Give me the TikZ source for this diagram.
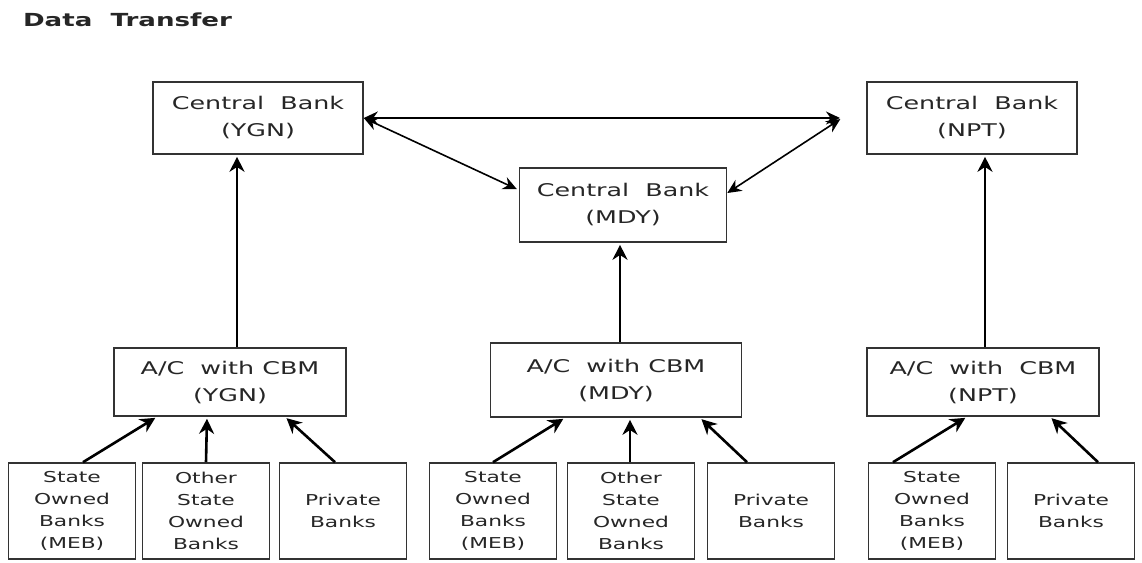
\documentclass[tikz,border=0pt]{standalone}
\usepackage{fontspec}
\setmainfont{DejaVu Sans}[FakeStretch=1.45]
\usepackage{pgf, tikz}
\usetikzlibrary{arrows.meta}

\begin{document}
\begin{tikzpicture}[
            x = 1pt, y = -1pt, % picture laid out in pixels
            > = {Stealth[length=15pt, width=15pt]}, % arrow head style
            shorten > = 2pt, % don't touch arrow head to node
            line width = 1.4pt % line style
        ]

        \tikzstyle{every node}=[text = black!85]
        \tikzstyle{bigbox}=[
            draw = black!80,
            line width = 1.6pt,
            align = center,
            font = \fontsize{17.5}{27}\selectfont
        ]
        \tikzstyle{bankbox}=[
            draw = black!80,
            line width = 1.6pt,
            align = center,
            minimum width = 127pt,
            minimum height = 96pt,
            font = \fontsize{15}{22}\selectfont
        ]
        \tikzstyle{flow}=[->, line width = 2.6pt]
        \tikzstyle{link}=[{Stealth[length=14pt, width=13pt]}-{Stealth[length=14pt, width=13pt]}, line width = 1.6pt]

        \useasboundingbox (0,0) rectangle (1142,562);

        \node (title) [anchor = west, font = \fontsize{18}{20}\selectfont\bfseries] at (19,20) {Data\ \ Transfer};

        % central banks
        \node (cbygn) [bigbox, minimum width = 210pt, minimum height = 72pt] at (258,118) {Central\ \ Bank\\(YGN)};
        \node (cbmdy) [bigbox, minimum width = 207pt, minimum height = 74pt] at (623,205) {Central\ \ Bank\\(MDY)};
        \node (cbnpt) [bigbox, minimum width = 210pt, minimum height = 72pt] at (972,118) {Central\ \ Bank\\(NPT)};
        \coordinate (nptlink) at (842,118);

        % accounts with CBM
        \node (acygn) [bigbox, minimum width = 232pt, minimum height = 68pt] at (230,382) {A/C\ \ with CBM\\(YGN)};
        \node (acmdy) [bigbox, minimum width = 251pt, minimum height = 74pt] at (616,380) {A/C\ \ with CBM\\(MDY)};
        \node (acnpt) [bigbox, minimum width = 232pt, minimum height = 68pt] at (983,382) {A/C\ \ with\ \ CBM\\(NPT)};

        % banks
        \node (ygnmeb) [bankbox] at (72,511) {State\\Owned\\Banks\\(MEB)};
        \node (ygnother) [bankbox] at (206,511) {Other\\State\\Owned\\Banks};
        \node (ygnpriv) [bankbox] at (343,511) {Private\\Banks};
        \node (mdymeb) [bankbox] at (493,511) {State\\Owned\\Banks\\(MEB)};
        \node (mdyother) [bankbox] at (631,511) {Other\\State\\Owned\\Banks};
        \node (mdypriv) [bankbox] at (771,511) {Private\\Banks};
        \node (nptmeb) [bankbox] at (932,511) {State\\Owned\\Banks\\(MEB)};
        \node (nptpriv) [bankbox] at (1071,511) {Private\\Banks};

        \path[link] (cbygn.east) edge (nptlink);
        \path[link] (cbygn.east) edge ([yshift=15pt]cbmdy.west);
        \path[link] ([yshift=12pt]cbmdy.east) edge (nptlink);

        \path[flow] ([xshift=7pt]acygn.north) edge ([xshift=7pt]acygn.north |- cbygn.south);
        \path[flow] ([xshift=4pt]acmdy.north) edge ([xshift=4pt]acmdy.north |- cbmdy.south);
        \path[flow] ([xshift=2pt]acnpt.north) edge ([xshift=2pt]acnpt.north |- cbnpt.south);

        \path[flow] ([xshift=11pt]ygnmeb.north) edge ([xshift=-73pt]acygn.south);
        \path[flow] (ygnother.north) edge ([xshift=-23pt]acygn.south);
        \path[flow] ([xshift=-8pt]ygnpriv.north) edge ([xshift=55pt]acygn.south);
        \path[flow] (mdymeb.north) edge ([xshift=-51pt]acmdy.south);
        \path[flow] ([xshift=-1pt]mdyother.north) edge ([xshift=14pt]acmdy.south);
        \path[flow] ([xshift=-24pt]mdypriv.north) edge ([xshift=84pt]acmdy.south);
        \path[flow] ([xshift=-39pt]nptmeb.north) edge ([xshift=-16pt]acnpt.south);
        \path[flow] ([xshift=27pt]nptpriv.north) edge ([xshift=67pt]acnpt.south);

    \end{tikzpicture}
\end{document}
